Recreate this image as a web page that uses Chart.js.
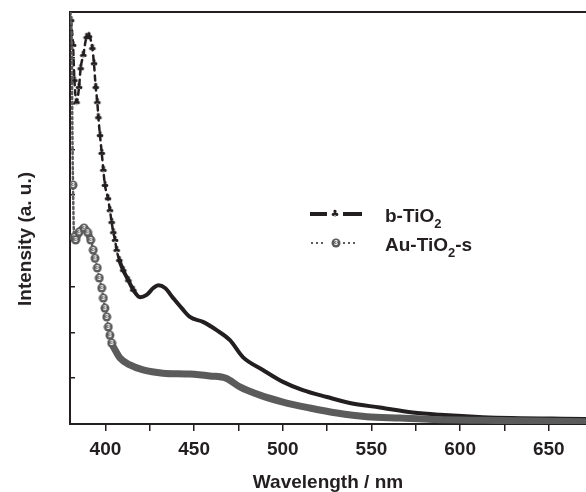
<!DOCTYPE html>
<html>
<head>
<meta charset="utf-8">
<script src="https://cdn.jsdelivr.net/npm/chart.js@4.4.0/dist/chart.umd.min.js"></script>
<style>
  body { margin: 0; background: #fff; }
  #wrap { position: relative; width: 586px; height: 492px; }
  #ytitle { position: absolute; left: 25px; top: 239px; transform: translate(-50%, -50%) rotate(-90deg);
    font: bold 19px "Liberation Sans", Arial, sans-serif; color: #231f20; white-space: nowrap; }
  .legtxt { position: absolute; left: 385px; font: bold 19px "Liberation Sans", Arial, sans-serif; color: #231f20;
    line-height: 22px; white-space: nowrap; }
  .legtxt sub { font-size: 13px; vertical-align: -6px; line-height: 0; }
  .dash { position: absolute; height: 4px; background: #231f20; }
  .dot { position: absolute; width: 2px; height: 2px; background: #5b5b5b; }
  .sym { position: absolute; }
</style>
</head>
<body>
<div id="wrap">
  <canvas id="uvChart" width="586" height="492"></canvas>
  <div id="ytitle">Intensity (a. u.)</div>

  <div class="dash" style="left:310px;top:212px;width:17px"></div>
  <canvas class="sym" id="legClub" width="10" height="10" style="left:330px;top:209px"></canvas>
  <div class="dash" style="left:343px;top:212px;width:19px"></div>
  <div class="legtxt" style="top:205px">b-TiO<sub>2</sub></div>

  <div class="dot" style="left:311px;top:242px"></div>
  <div class="dot" style="left:316px;top:242px"></div>
  <div class="dot" style="left:321px;top:242px"></div>
  <canvas class="sym" id="legThree" width="10" height="10" style="left:331px;top:238px"></canvas>
  <div class="dot" style="left:343px;top:242px"></div>
  <div class="dot" style="left:348px;top:242px"></div>
  <div class="dot" style="left:353px;top:242px"></div>
  <div class="legtxt" style="top:234px">Au-TiO<sub>2</sub>-s</div>
</div>

<script>
// wavelengths (nm) and intensities (a.u.)
const bTiO2Nm = [380.6, 381.7, 382.5, 383.7, 385.1, 386.0, 387.5, 389.4, 390.7, 392.6,
  393.5, 394.5, 395.4, 396.0, 396.9, 397.9, 398.8, 399.7, 401.4, 402.5,
  403.5, 404.4, 405.4, 406.3, 407.8, 410.0, 412.9, 415.7, 419.5, 423.2,
  427.0, 429.8, 433.6, 438.2, 443.0, 447.6, 455.0, 462.7, 470.2, 477.5,
  488.8, 500.1, 511.3, 524.9, 537.8, 554.7, 573.3, 588.6, 612.8, 671];
const bTiO2Int = [8.82, 8.28, 7.51, 7.03, 7.36, 7.77, 8.06, 8.45, 8.47, 8.21,
  7.88, 7.36, 7.03, 6.70, 6.31, 5.92, 5.55, 5.22, 4.93, 4.67,
  4.41, 4.19, 4.02, 3.80, 3.58, 3.36, 3.14, 2.93, 2.77, 2.82,
  2.97, 3.03, 2.97, 2.75, 2.53, 2.34, 2.23, 2.05, 1.83, 1.46,
  1.18, 0.92, 0.74, 0.59, 0.46, 0.36, 0.25, 0.20, 0.15, 0.11];

const auTiO2Nm = [380.3, 381.1, 381.3, 381.7, 382.3, 383.2, 385.1, 387.9, 389.9, 391.7,
  393.1, 394.1, 395.4, 396.5, 397.9, 398.8, 399.7, 400.7, 401.6, 402.5,
  403.5, 405.4, 408.2, 413.8, 421.2, 432.4, 447.6, 458.9, 468.0, 475.8,
  487.1, 500.1, 515.3, 530.5, 547.4, 566.0, 584.6, 612.8, 671];
const auTiO2Int = [9.0, 7.95, 6.64, 5.22, 4.08, 4.02, 4.19, 4.28, 4.19, 4.02,
  3.80, 3.62, 3.41, 3.19, 2.97, 2.75, 2.53, 2.34, 2.12, 1.94,
  1.77, 1.62, 1.44, 1.29, 1.18, 1.11, 1.09, 1.05, 1.00, 0.81,
  0.63, 0.48, 0.35, 0.24, 0.16, 0.13, 0.10, 0.08, 0.05];

const xTicks = [400, 425, 450, 475, 500, 525, 550, 575, 600, 625, 650];
const xLabels = [400, 450, 500, 550, 600, 650];

const black = '#231f20';
const gray = '#5b5b5b';
const font = { family: '"Liberation Sans", Arial, sans-serif', size: 19, weight: 'bold' };

function clubMark(cv) {
  const c = cv || document.createElement('canvas');
  c.width = 10; c.height = 10;
  const g = c.getContext('2d');
  g.fillStyle = black;
  g.font = '10px "DejaVu Sans"';
  g.textAlign = 'center';
  g.textBaseline = 'middle';
  g.fillText('\u2663', 5, 5.5);
  return c;
}
function threeMark(cv) {
  const c = cv || document.createElement('canvas');
  c.width = 10; c.height = 10;
  const g = c.getContext('2d');
  g.fillStyle = gray;
  g.beginPath(); g.arc(5, 5, 4.5, 0, Math.PI * 2); g.fill();
  g.fillStyle = '#fff';
  g.font = 'bold 7px "Liberation Sans"';
  g.textAlign = 'center';
  g.textBaseline = 'middle';
  g.fillText('3', 5, 5.5);
  return c;
}
clubMark(document.getElementById('legClub'));
threeMark(document.getElementById('legThree'));

const steep = c => Math.abs(c.p1.y - c.p0.y) > 3 * Math.abs(c.p1.x - c.p0.x);

new Chart(document.getElementById('uvChart'), {
  type: 'line',
  data: {
    datasets: [
      {
        label: 'Au-TiO2-s',
        data: auTiO2Nm.map((x, i) => ({ x: x, y: auTiO2Int[i] })),
        borderColor: gray,
        borderWidth: 7,
        pointStyle: threeMark(),
        pointRadius: c => (c.raw && c.raw.x >= 381.6 && c.raw.x < 404) ? 4 : 0,
        cubicInterpolationMode: 'monotone',
        borderCapStyle: 'round',
        borderJoinStyle: 'round',
        segment: {
          borderDash: c => steep(c) ? [2, 3] : undefined,
          borderWidth: c => steep(c) ? 2.5 : 7
        }
      },
      {
        label: 'b-TiO2',
        data: bTiO2Nm.map((x, i) => ({ x: x, y: bTiO2Int[i] })),
        borderColor: black,
        borderWidth: 4,
        pointStyle: clubMark(),
        pointRadius: c => (c.raw && c.raw.x < 418) ? 4 : 0,
        cubicInterpolationMode: 'monotone',
        borderCapStyle: 'round',
        borderJoinStyle: 'round',
        segment: {
          borderDash: c => steep(c) ? [5, 5] : undefined,
          borderWidth: c => steep(c) ? 2.5 : 4
        }
      }
    ]
  },
  options: {
    responsive: false,
    animation: false,
    layout: { padding: 0, autoPadding: false },
    plugins: { legend: { display: false }, tooltip: { enabled: false } },
    scales: {
      x: {
        type: 'linear', min: 380, max: 671,
        afterBuildTicks: s => { s.ticks = xTicks.map(v => ({ value: v })); },
        afterFit: s => { s.height = 68; s.paddingLeft = 0; s.paddingRight = 0; },
        ticks: {
          autoSkip: false, maxRotation: 0, padding: 7, color: black, font: font,
          callback: v => xLabels.includes(v) ? v : ''
        },
        grid: { drawOnChartArea: false, drawTicks: true, tickLength: 7, color: black, lineWidth: 1.5 },
        border: { color: black, width: 2 },
        title: { display: true, text: 'Wavelength / nm', color: black, font: font, padding: { top: 0, bottom: -2 } }
      },
      x2: {
        type: 'linear', axis: 'x', position: 'top', min: 380, max: 671,
        afterFit: s => { s.height = 12; s.paddingLeft = 0; s.paddingRight = 0; },
        ticks: { display: false },
        grid: { display: false },
        border: { color: black, width: 2 }
      },
      y: {
        min: 0, max: 9,
        afterFit: s => { s.width = 70; },
        ticks: { display: false, stepSize: 1 },
        grid: { drawOnChartArea: false, drawTicks: true, tickLength: -5, color: black, lineWidth: 1.5 },
        border: { color: black, width: 2 }
      }
    }
  }
});
</script>
</body>
</html>
